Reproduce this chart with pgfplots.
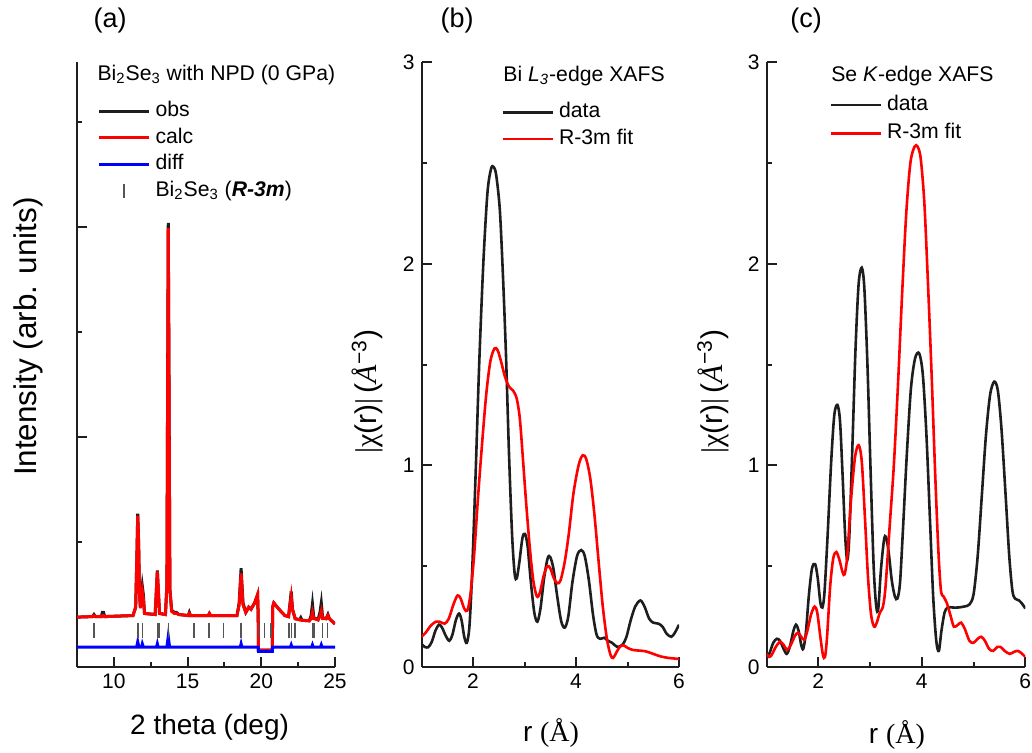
\documentclass[border=0pt]{standalone}
\usepackage{pgfplots}
\pgfplotsset{compat=1.18}
\usepackage{fontspec}
\setmainfont{Liberation Sans}
\newfontfamily\serif{Liberation Serif}
\definecolor{cblk}{HTML}{1E1E1E}
\definecolor{cred}{HTML}{FF0000}
\definecolor{cblu}{HTML}{0000FF}
\definecolor{ctick}{HTML}{555555}

\pgfplotstableread{
x y
7.50 0.285
8.55 0.29
8.65 0.31
8.75 0.29
9.15 0.29
9.22 0.33
9.30 0.33
9.38 0.29
11.30 0.30
11.48 0.38
11.56 0.85
11.62 1.27
11.68 1.0
11.74 0.50
11.80 0.38
11.86 0.48
11.93 0.58
12.00 0.50
12.08 0.32
12.80 0.31
12.87 0.50
12.95 0.73
13.03 0.50
13.10 0.32
13.50 0.31
13.60 0.60
13.65 2.60
13.69 4.04
13.74 2.60
13.80 0.55
13.92 0.35
14.10 0.33
14.25 0.33
14.40 0.31
15.05 0.30
15.12 0.33
15.20 0.30
16.40 0.30
16.48 0.32
16.56 0.30
18.35 0.30
18.50 0.42
18.63 0.75
18.76 0.42
18.95 0.33
19.15 0.38
19.30 0.36
19.55 0.42
19.75 0.50
19.79 0.30
19.81 -0.03
20.75 -0.03
20.77 0.38
20.85 0.42
21.20 0.36
21.60 0.30
21.85 0.29
21.95 0.42
22.03 0.53
22.12 0.36
22.30 0.27
22.60 0.26
22.68 0.28
22.76 0.255
23.25 0.25
23.38 0.30
23.47 0.41
23.56 0.28
23.85 0.26
23.98 0.33
24.07 0.42
24.16 0.28
24.40 0.27
24.52 0.31
24.62 0.27
25.00 0.22
}\obs

\pgfplotstableread{
x y
7.50 0.285
8.55 0.29
8.65 0.30
8.75 0.29
9.15 0.29
9.22 0.30
9.30 0.30
9.38 0.29
11.30 0.30
11.48 0.38
11.56 0.85
11.62 1.25
11.68 0.98
11.74 0.50
11.80 0.37
11.86 0.45
11.93 0.53
12.00 0.46
12.08 0.32
12.80 0.31
12.87 0.50
12.95 0.72
13.03 0.50
13.10 0.32
13.50 0.31
13.60 0.60
13.65 2.55
13.69 3.99
13.74 2.55
13.80 0.55
13.92 0.34
14.10 0.32
14.25 0.32
14.40 0.31
15.05 0.30
15.12 0.32
15.20 0.30
16.40 0.30
16.48 0.32
16.56 0.30
18.35 0.30
18.50 0.40
18.63 0.70
18.76 0.40
18.95 0.33
19.15 0.38
19.30 0.36
19.55 0.42
19.75 0.50
19.79 0.30
19.81 -0.03
20.75 -0.03
20.77 0.38
20.85 0.42
21.20 0.36
21.60 0.30
21.85 0.29
21.95 0.40
22.03 0.48
22.12 0.35
22.30 0.27
22.60 0.26
22.68 0.26
22.76 0.255
23.25 0.25
23.38 0.27
23.47 0.33
23.56 0.27
23.85 0.26
23.98 0.29
24.07 0.34
24.16 0.27
24.40 0.27
24.52 0.30
24.62 0.27
25.00 0.22
}\calc

\pgfplotstableread{
x y
7.50 0.0
11.55 0.0
11.62 0.05
11.70 0.0
11.88 0.0
11.93 0.03
12.00 0.0
12.90 0.0
12.95 0.03
13.00 0.0
13.60 0.0
13.69 0.10
13.78 0.0
18.58 0.0
18.63 0.03
18.68 0.0
19.79 0.0
19.81 -0.04
20.75 -0.04
20.77 0.0
21.98 0.0
22.03 0.02
22.08 0.0
23.42 0.0
23.47 0.02
23.52 0.0
24.02 0.0
24.07 0.02
24.12 0.0
25.00 0.0
}\diff

\pgfplotstableread{
x y
8.65 0.162
11.64 0.162
11.96 0.162
12.94 0.162
13.06 0.162
13.70 0.162
15.43 0.162
16.44 0.162
17.43 0.162
18.63 0.162
19.82 0.162
20.20 0.162
20.65 0.162
21.89 0.162
22.06 0.162
22.28 0.162
23.47 0.162
23.58 0.162
24.14 0.162
24.50 0.162
}\bragg

\pgfplotstableread{
x y
1.00 0.115
1.06 0.100
1.13 0.098
1.20 0.125
1.27 0.18
1.34 0.21
1.40 0.195
1.47 0.155
1.54 0.130
1.60 0.16
1.67 0.235
1.73 0.265
1.78 0.23
1.83 0.15
1.88 0.12
1.93 0.20
1.98 0.45
2.05 0.95
2.12 1.50
2.20 2.00
2.28 2.35
2.35 2.47
2.40 2.48
2.45 2.44
2.52 2.27
2.58 1.95
2.64 1.55
2.70 1.05
2.76 0.65
2.81 0.46
2.85 0.44
2.90 0.52
2.96 0.64
3.01 0.66
3.06 0.60
3.12 0.43
3.19 0.27
3.25 0.225
3.31 0.29
3.38 0.44
3.45 0.54
3.50 0.545
3.56 0.49
3.63 0.36
3.71 0.23
3.78 0.195
3.85 0.25
3.93 0.42
4.02 0.55
4.10 0.58
4.17 0.55
4.25 0.43
4.33 0.26
4.40 0.16
4.47 0.14
4.55 0.145
4.62 0.13
4.70 0.12
4.80 0.10
4.90 0.11
4.98 0.15
5.06 0.23
5.15 0.30
5.25 0.33
5.33 0.30
5.42 0.24
5.50 0.22
5.60 0.215
5.68 0.20
5.76 0.165
5.85 0.15
5.92 0.17
6.00 0.21
}\bidata

\pgfplotstableread{
x y
1.00 0.150
1.08 0.17
1.18 0.205
1.28 0.225
1.35 0.225
1.45 0.215
1.53 0.24
1.62 0.31
1.70 0.355
1.76 0.34
1.83 0.29
1.89 0.28
1.95 0.36
2.02 0.55
2.10 0.85
2.18 1.12
2.26 1.36
2.34 1.52
2.42 1.58
2.48 1.57
2.55 1.51
2.62 1.44
2.70 1.39
2.78 1.37
2.85 1.33
2.91 1.23
2.97 1.03
3.03 0.82
3.10 0.60
3.17 0.43
3.24 0.35
3.30 0.37
3.37 0.45
3.44 0.50
3.50 0.49
3.57 0.44
3.64 0.415
3.70 0.43
3.78 0.52
3.86 0.66
3.95 0.86
4.05 1.00
4.13 1.05
4.20 1.03
4.28 0.93
4.36 0.75
4.44 0.52
4.52 0.30
4.60 0.14
4.67 0.06
4.72 0.045
4.78 0.07
4.85 0.10
4.92 0.108
5.00 0.095
5.10 0.085
5.20 0.082
5.35 0.078
5.50 0.065
5.65 0.052
5.80 0.045
6.00 0.040
}\bifit

\pgfplotstableread{
x y
1.00 0.045
1.06 0.07
1.13 0.12
1.20 0.14
1.26 0.13
1.33 0.09
1.39 0.065
1.45 0.10
1.52 0.18
1.57 0.21
1.62 0.18
1.67 0.11
1.71 0.09
1.76 0.17
1.82 0.36
1.88 0.49
1.94 0.51
1.99 0.44
2.04 0.32
2.08 0.295
2.12 0.37
2.18 0.65
2.25 1.02
2.31 1.25
2.37 1.30
2.42 1.22
2.47 0.95
2.52 0.65
2.56 0.53
2.60 0.65
2.66 1.10
2.72 1.58
2.78 1.90
2.84 1.98
2.89 1.88
2.95 1.50
3.01 0.98
3.07 0.50
3.12 0.30
3.16 0.29
3.21 0.48
3.27 0.63
3.31 0.645
3.36 0.57
3.42 0.43
3.48 0.35
3.53 0.34
3.58 0.42
3.64 0.70
3.71 1.05
3.79 1.38
3.87 1.53
3.95 1.555
4.02 1.45
4.09 1.15
4.16 0.72
4.22 0.35
4.28 0.13
4.33 0.08
4.38 0.18
4.44 0.27
4.50 0.295
4.60 0.295
4.70 0.295
4.82 0.30
4.92 0.31
5.00 0.36
5.08 0.55
5.16 0.85
5.24 1.15
5.32 1.35
5.40 1.415
5.47 1.37
5.54 1.18
5.62 0.85
5.69 0.55
5.75 0.38
5.80 0.34
5.88 0.33
5.95 0.31
6.00 0.29
}\sedata

\pgfplotstableread{
x y
1.00 0.065
1.05 0.05
1.10 0.06
1.18 0.10
1.26 0.125
1.33 0.11
1.40 0.085
1.47 0.11
1.55 0.155
1.61 0.17
1.67 0.15
1.73 0.135
1.79 0.18
1.86 0.26
1.93 0.30
1.98 0.27
2.04 0.15
2.09 0.06
2.13 0.05
2.17 0.15
2.23 0.40
2.29 0.54
2.35 0.57
2.41 0.53
2.47 0.47
2.51 0.46
2.56 0.55
2.63 0.82
2.71 1.04
2.78 1.10
2.84 1.02
2.90 0.75
2.96 0.45
3.02 0.26
3.08 0.20
3.13 0.22
3.19 0.27
3.25 0.30
3.30 0.40
3.38 0.70
3.46 1.00
3.54 1.40
3.62 1.85
3.70 2.25
3.78 2.50
3.86 2.58
3.92 2.58
3.98 2.52
4.05 2.30
4.12 1.90
4.19 1.45
4.26 0.95
4.32 0.58
4.37 0.38
4.42 0.35
4.48 0.32
4.55 0.26
4.62 0.20
4.70 0.21
4.76 0.22
4.83 0.19
4.92 0.13
5.00 0.12
5.08 0.14
5.15 0.15
5.22 0.13
5.30 0.09
5.38 0.08
5.46 0.10
5.52 0.10
5.60 0.08
5.70 0.065
5.78 0.075
5.86 0.08
5.94 0.065
6.00 0.05
}\sefit

\pgfplotsset{
  myaxis/.style={
    scale only axis,
    anchor=south west,
    height=302.5pt,
    clip mode=individual,
    axis x line*=bottom, axis y line*=left,
    axis line style={line width=1pt, cblk, -},
    every tick/.style={cblk, line width=1pt},
    major tick length=5pt, minor tick length=2.5pt,
    tick align=inside,
    /pgf/number format/assume math mode=true,
    tick label style={font=\fontsize{10.5}{12}\selectfont},
    label style={font=\fontsize{14}{16}\selectfont},
    legend cell align=left,
  },
  lineleg/.style={legend image code/.code={\draw[##1] (0pt,0pt) -- (25pt,0pt);}},
  legbase/.style={draw=none, fill=none, anchor=north west,
    inner sep=0pt, font=\fontsize{10.6}{12}\selectfont, column sep=1.5pt,
    nodes={inner sep=1pt, text height=7.6pt, text depth=2.2pt}},
}

\begin{document}
\begin{tikzpicture}
\useasboundingbox (0,0) rectangle (516pt,376pt);

% (a)
\begin{axis}[myaxis,
  at={(38.5pt,42.5pt)}, width=129pt,
  xmin=7.5, xmax=25, ymin=-0.19, ymax=5.571,
  xtick={10,15,20,25}, minor xtick={12.5,17.5,22.5},
  ytick={0,2,4}, minor ytick={1,3,5}, yticklabels={},
  xlabel={2 theta (deg)}, ylabel={Intensity (arb. units)},
  xlabel style={at={(axis description cs:0.514,-0.099)}, anchor=center},
  ylabel style={at={(axis description cs:-0.19,0.546)}, anchor=center, font=\fontsize{15.7}{17}\selectfont},
  legend style={legbase, at={(axis description cs:0.078,0.939)}, row sep=1.5pt},
]
\addplot[cblk, line width=1.5pt, lineleg] table[x=x,y=y] {\obs};
\addlegendentry{obs}
\addplot[cred, line width=1.5pt, lineleg] table[x=x,y=y] {\calc};
\addlegendentry{calc}
\addplot[cblu, line width=1.5pt, lineleg] table[x=x,y=y] {\diff};
\addlegendentry{diff}
\addplot[only marks, mark=|, mark size=3.75pt, mark options={line width=0.7pt, ctick},
  legend image code/.code={\draw[line width=0.7pt, ctick] (12.5pt,-3.3pt) -- (12.5pt,3.3pt);}]
  table[x=x,y=y] {\bragg};
\addlegendentry{Bi\textsubscript{2}Se\textsubscript{3} (\textbf{\textit{R-3m}})}
\node[anchor=west, font=\fontsize{10.6}{12}\selectfont, inner sep=0pt] at (axis description cs:0.078,0.9785)
  {Bi\textsubscript{2}Se\textsubscript{3} with NPD (0 GPa)};
\node[font=\fontsize{13.5}{15}\selectfont, inner sep=0pt] at (axis description cs:0.128,1.069) {(a)};
\end{axis}

% (b)
\begin{axis}[myaxis,
  at={(210.75pt,42.5pt)}, width=128.75pt,
  xmin=1, xmax=6, ymin=0, ymax=3,
  xtick={2,4,6}, minor xtick={3,5},
  ytick={0,1,2,3}, minor ytick={0.5,1.5,2.5},
  xlabel={r {\serif (Å)}},
  ylabel={{\serif|χ}(r){\serif|}\,({\serif\itshape Å}\textsuperscript{−3})},
  xlabel style={at={(axis description cs:0.503,-0.109)}, anchor=center},
  ylabel style={at={(axis description cs:-0.21,0.455)}, anchor=center, font=\fontsize{15}{17}\selectfont},
  legend style={legbase, at={(axis description cs:0.309,0.937)}, row sep=1.6pt},
]
\addplot[cblk, line width=1.3pt, smooth, lineleg] table[x=x,y=y] {\bidata};
\addlegendentry{data}
\addplot[cred, line width=1.3pt, smooth, lineleg] table[x=x,y=y] {\bifit};
\addlegendentry{R-3m fit}
\node[anchor=west, font=\fontsize{10.6}{12}\selectfont, inner sep=0pt] at (axis description cs:0.3165,0.977)
  {Bi \textit{L}\textsubscript{\textit{3}}-edge XAFS};
\node[font=\fontsize{13.5}{15}\selectfont, inner sep=0pt] at (axis description cs:0.138,1.068) {(b)};
\end{axis}

% (c)
\begin{axis}[myaxis,
  at={(383.25pt,42.5pt)}, width=129.4pt,
  xmin=1, xmax=6, ymin=0, ymax=3,
  xtick={2,4,6}, minor xtick={3,5},
  ytick={0,1,2,3}, minor ytick={0.5,1.5,2.5},
  xlabel={r {\serif (Å)}},
  ylabel={{\serif|χ}(r){\serif|}\,({\serif\itshape Å}\textsuperscript{−3})},
  xlabel style={at={(axis description cs:0.504,-0.112)}, anchor=center},
  ylabel style={at={(axis description cs:-0.207,0.455)}, anchor=center, font=\fontsize{15}{17}\selectfont},
  legend style={legbase, at={(axis description cs:0.2415,0.949)}, row sep=2.4pt},
]
\addplot[cblk, line width=1.3pt, smooth, lineleg] table[x=x,y=y] {\sedata};
\addlegendentry{data}
\addplot[cred, line width=1.3pt, smooth, lineleg] table[x=x,y=y] {\sefit};
\addlegendentry{R-3m fit}
\node[anchor=west, font=\fontsize{10.6}{12}\selectfont, inner sep=0pt] at (axis description cs:0.249,0.977)
  {Se \textit{K}-edge XAFS};
\node[font=\fontsize{13.5}{15}\selectfont, inner sep=0pt] at (axis description cs:0.153,1.068) {(c)};
\end{axis}
\end{tikzpicture}
\end{document}
